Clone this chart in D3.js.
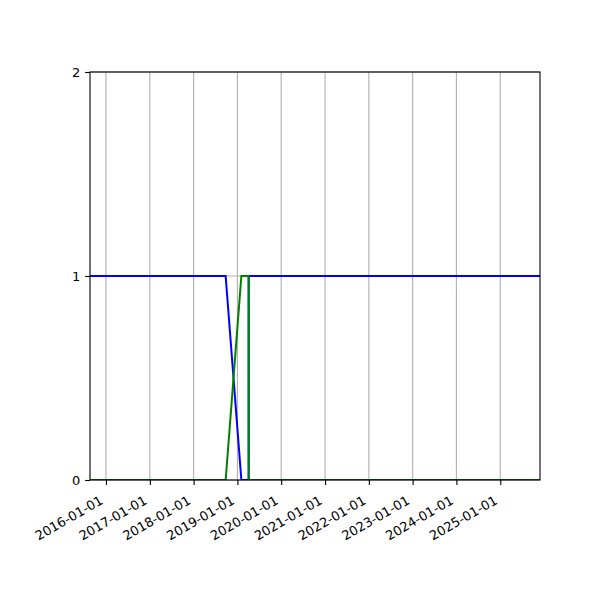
<!DOCTYPE html>
<html>
<head>
<meta charset="utf-8">
<script src="https://cdn.jsdelivr.net/npm/d3@7"></script>
<style>
  body { margin: 0; background: #fff; }
  svg { display: block; }
  text { font-family: "DejaVu Sans", sans-serif; font-size: 13px; fill: #000; }
</style>
</head>
<body>
<svg id="chart" width="600" height="600"></svg>
<script>
// Data
const dates = ["2015-08-21", "2018-09-25", "2019-02-03", "2019-04-05", "2019-04-05", "2025-11-28"];
const blueValues  = [1, 1, 0, 0, 1, 1];
const greenValues = [0, 0, 1, 1, 0, 0];
const xTickLabels = ["2016-01-01","2017-01-01","2018-01-01","2019-01-01","2020-01-01",
                     "2021-01-01","2022-01-01","2023-01-01","2024-01-01","2025-01-01"];
const yTicks = [0, 1, 2];

(function () {
const parse = d3.utcParse("%Y-%m-%d");
const mLeft = 90, mRight = 540, mTop = 72, mBottom = 480;

const svg = d3.select("#chart");
const x = d3.scaleUtc()
  .domain([parse(dates[0]), parse(dates[dates.length - 1])])
  .range([mLeft, mRight]);
const y = d3.scaleLinear().domain([0, 2]).range([mBottom, mTop]);

const xTickDates = xTickLabels.map(parse);

svg.append("defs").append("clipPath").attr("id", "clip")
  .append("rect").attr("x", mLeft).attr("y", mTop).attr("width", mRight - mLeft).attr("height", mBottom - mTop);

// grid
const grid = svg.append("g");
grid.selectAll("line.vx").data(xTickDates).join("line").attr("class", "vx")
  .attr("x1", d => x(d)).attr("x2", d => x(d))
  .attr("y1", mTop).attr("y2", mBottom)
  .attr("stroke", "#b0b0b0").attr("stroke-width", 1.1);
grid.selectAll("line.hy").data(yTicks).join("line").attr("class", "hy")
  .attr("x1", mLeft).attr("x2", mRight)
  .attr("y1", d => y(d)).attr("y2", d => y(d))
  .attr("stroke", "#b0b0b0").attr("stroke-width", 1.1);

// lines
const pts = vals => dates.map((d, i) => [parse(d), vals[i]]);
const line = d3.line().x(d => x(d[0])).y(d => y(d[1]));
const lines = svg.append("g").attr("clip-path", "url(#clip)");
lines.append("path").datum(pts(blueValues)).attr("d", line)
  .attr("fill", "none").attr("stroke", "#0000ff").attr("stroke-width", 2);
lines.append("path").datum(pts(greenValues)).attr("d", line)
  .attr("fill", "none").attr("stroke", "#008000").attr("stroke-width", 2);

// axes
const xAxis = d3.axisBottom(x).tickValues(xTickDates)
  .tickFormat((d, i) => xTickLabels[i]).tickSize(4.9).tickPadding(4.9);
const gx = svg.append("g").attr("transform", `translate(0,${mBottom})`).call(xAxis);
gx.select(".domain").remove();
gx.selectAll(".tick line").attr("stroke", "#000").attr("stroke-width", 1.1);
gx.selectAll(".tick text")
  .attr("text-anchor", "end")
  .attr("dy", null)
  .attr("y", null)
  .attr("transform", "translate(-2.5,23) rotate(-30)")
  .style("font-size", "13px")
  .style("font-family", "DejaVu Sans, sans-serif");

const yAxis = d3.axisLeft(y).tickValues(yTicks).tickFormat(d3.format("d"))
  .tickSize(4.9).tickPadding(4.9);
const gy = svg.append("g").attr("transform", `translate(${mLeft},0)`).call(yAxis);
gy.select(".domain").remove();
gy.selectAll(".tick line").attr("stroke", "#000").attr("stroke-width", 1.1);
gy.selectAll(".tick text")
  .style("font-size", "13px")
  .style("font-family", "DejaVu Sans, sans-serif");

// spines
svg.append("rect").attr("x", mLeft).attr("y", mTop)
  .attr("width", mRight - mLeft).attr("height", mBottom - mTop)
  .attr("fill", "none").attr("stroke", "#000").attr("stroke-width", 1.1);
})();
</script>
</body>
</html>
